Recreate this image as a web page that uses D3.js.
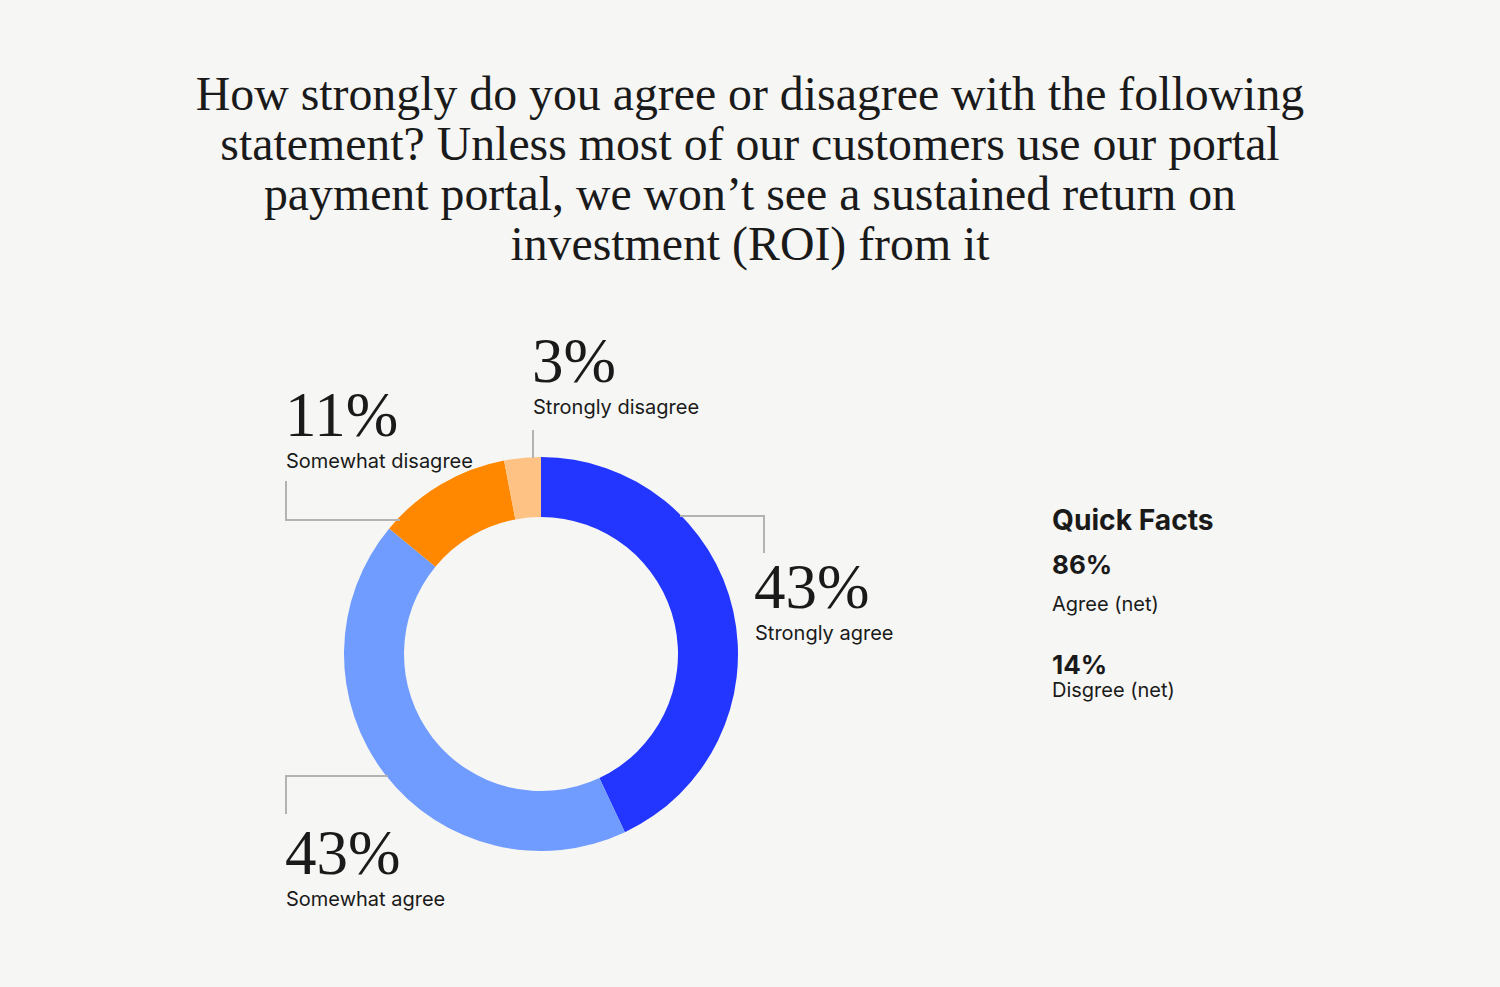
<!DOCTYPE html>
<html>
<head>
<meta charset="utf-8">
<script src="https://cdn.jsdelivr.net/npm/d3@7"></script>
<style>
  html, body { margin: 0; padding: 0; background: #f6f6f4; }
  svg { display: block; }
</style>
</head>
<body>
<svg id="chart" width="1500" height="987"></svg>
<script>
// data
var categories = ["Strongly agree", "Somewhat agree", "Somewhat disagree", "Strongly disagree"];
var values = [43, 43, 11, 3];
var colors = ["#2236ff", "#709cff", "#ff8800", "#ffc285"];
var titleLines = [
  "How strongly do you agree or disagree with the following",
  "statement? Unless most of our customers use our portal",
  "payment portal, we won\u2019t see a sustained return on",
  "investment (ROI) from it"
];
var factValues = ["86%", "14%"];
var factLabels = ["Agree (net)", "Disgree (net)"];

var svg = d3.select("#chart");
var serif = "'Liberation Serif', 'DejaVu Serif', serif";
var sans = "Inter, 'Noto Sans', sans-serif";

// title
svg.selectAll(".title").data(titleLines).enter().append("text")
  .attr("x", 750).attr("y", function(d, i) { return 110 + i * 50; })
  .attr("text-anchor", "middle")
  .style("font-family", serif).style("font-size", "47.8px").style("fill", "#1a1a1a")
  .text(function(d) { return d; });

// donut
var cx = 541, cy = 654, rOuter = 197, rInner = 137;
var pie = d3.pie().sort(null).value(function(d) { return d; });
var arc = d3.arc().innerRadius(rInner).outerRadius(rOuter);
var arcs = pie(values);

var g = svg.append("g").attr("transform", "translate(" + cx + "," + cy + ")");
g.selectAll("path").data(arcs).enter().append("path")
  .attr("d", arc)
  .style("fill", function(d, i) { return colors[i]; });

// labels: leader line points relative to the donut centre, text anchor
var labelLayout = [
  { line: [[139, -138], [223, -138], [223, -101]], x: 755, y: 608 },
  { line: [[-153, 122], [-255, 122], [-255, 160]], x: 286, y: 874 },
  { line: [[-255, -173], [-255, -134], [-141, -134]], x: 286, y: 436 },
  { line: [[-8, -224], [-8, -196]], x: 533, y: 382 }
];

var line = d3.line();
labelLayout.forEach(function(l, i) {
  g.append("path")
    .attr("d", line(l.line))
    .style("fill", "none").style("stroke", "#b3b3b3").style("stroke-width", 2);
  svg.append("text").attr("x", l.x - 1).attr("y", l.y)
    .style("font-family", serif).style("font-size", "63px").style("fill", "#1a1a1a")
    .text(values[i] + "%");
  svg.append("text").attr("x", l.x).attr("y", l.y + 32)
    .style("font-family", sans).style("font-size", "20px").style("fill", "#1a1a1a")
    .text(categories[i]);
});

// quick facts
svg.append("text").attr("x", 1052).attr("y", 530)
  .style("font-family", sans).style("font-size", "28.2px").style("font-weight", "700").style("fill", "#1a1a1a")
  .text("Quick Facts");
var factY = [574, 674];
var factLabelY = [611, 697];
factValues.forEach(function(v, i) {
  svg.append("text").attr("x", 1052).attr("y", factY[i])
    .style("font-family", sans).style("font-size", "26px").style("font-weight", "700").style("fill", "#1a1a1a")
    .text(v);
  svg.append("text").attr("x", 1052).attr("y", factLabelY[i])
    .style("font-family", sans).style("font-size", "20px").style("fill", "#1a1a1a")
    .text(factLabels[i]);
});
</script>
</body>
</html>
